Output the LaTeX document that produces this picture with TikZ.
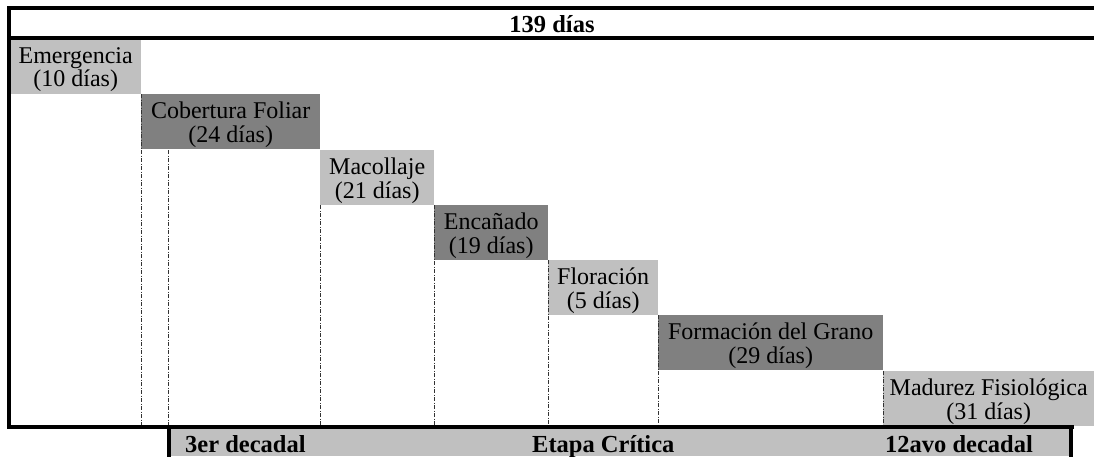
\documentclass[tikz,border=0pt]{standalone}
\usepackage{fontspec}
\setmainfont{Liberation Serif}
\definecolor{lg}{RGB}{192,192,192}
\definecolor{dg}{RGB}{128,128,128}
\begin{document}
\begin{tikzpicture}[x=1pt,y=-1pt,
  stage/.style={anchor=north west, inner sep=0pt, minimum height=55pt},
  light/.style={stage, fill=lg},
  dark/.style={stage, fill=dg},
  txt/.style={inner sep=0pt, align=center, font=\fontsize{24}{23.5}\selectfont, yshift=-3pt},
  dl/.style={line width=0.8pt, black!80, dash pattern=on 4pt off 1.5pt on 1pt off 1.5pt},
  thick border/.style={line width=3.5pt, line cap=rect},
  bold label/.style={font=\fontsize{24.5}{24}\selectfont\bfseries, inner sep=0pt, anchor=base west}]
\useasboundingbox (0,0) rectangle (1094,456);
% stage boxes
\node[light, minimum width=131pt] (eme) at (10,39) {};
\node[dark, minimum width=179pt] (cob) at (141,94) {};
\node[light, minimum width=114pt] (mac) at (320,150) {};
\node[dark, minimum width=114pt] (enc) at (434,205) {};
\node[light, minimum width=110pt] (flo) at (548,260) {};
\node[dark, minimum width=225pt] (for) at (658,315) {};
\node[light, minimum width=211pt] (mad) at (883,371) {};
\node[txt] (emet) at (eme.center) {Emergencia\\(10 días)};
\node[txt] (cobt) at (cob.center) {Cobertura Foliar\\(24 días)};
\node[txt] (mact) at (mac.center) {Macollaje\\(21 días)};
\node[txt] (enct) at (enc.center) {Encañado\\(19 días)};
\node[txt] (flot) at (flo.center) {Floración\\(5 días)};
\node[txt] (fort) at (for.center) {Formación del Grano\\(29 días)};
\node[txt] (madt) at (mad.center) {Madurez Fisiológica\\(31 días)};
% bottom bar
\coordinate (bl) at (8,427);
\coordinate (br) at (1072,427);
\fill[lg] (169,428) rectangle (1071,456);
% dashed guide lines
\coordinate (dec3) at (168,150);
\draw[dl] (cob.north west) -- (cob.north west |- bl);
\draw[dl] (dec3) -- (dec3 |- bl);
\draw[dl] (mac.south west) -- (mac.south west |- bl);
\draw[dl] (enc.north west) -- (enc.north west |- bl);
\draw[dl] (flo.north west) -- (flo.north west |- bl);
\draw[dl] (for.north west) -- (for.north west |- bl);
\draw[dl] (mad.north west) -- (mad.north west |- bl);
% frame
\draw[thick border] (1096,8) -- (9,8) -- (9,427) -- (br);
\draw[thick border] (9,38) -- (1096,38);
\draw[line width=3.5pt] (169,427) -- (169,458);
\draw[line width=3.5pt] (1071,427) -- (1071,458);
% labels
\node[font=\fontsize{24.5}{24}\selectfont\bfseries, inner sep=0pt, anchor=base] (tot) at (552,32) {139 días};
\node[bold label] (d3) at (185,452) {3er decadal};
\node[bold label] (crit) at (532,452) {Etapa Crítica};
\node[bold label] (d12) at (885,452) {12avo decadal};
\end{tikzpicture}
\end{document}
